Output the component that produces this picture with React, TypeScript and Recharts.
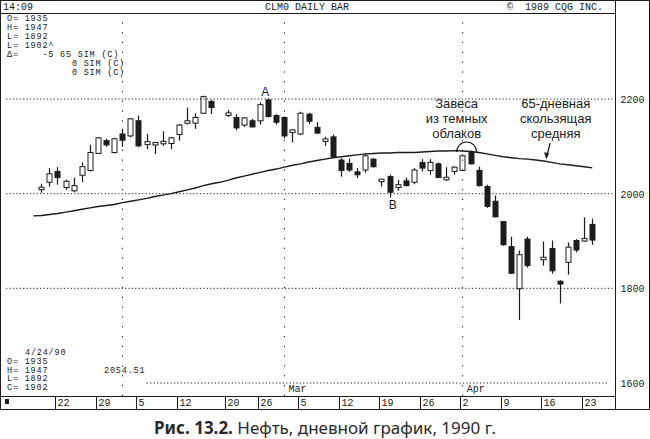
import React from 'react';
import { ComposedChart, Bar, Line, XAxis, YAxis, ReferenceLine, ReferenceDot } from 'recharts';

// one slot per weekday, holidays kept as empty slots (like the CQG screen)
const dates = [
  '1/12',
  '1/15', '1/16', '1/17', '1/18', '1/19',
  '1/22', '1/23', '1/24', '1/25', '1/26',
  '1/29', '1/30', '1/31', '2/1', '2/2',
  '2/5', '2/6', '2/7', '2/8', '2/9',
  '2/12', '2/13', '2/14', '2/15', '2/16',
  '2/19', '2/20', '2/21', '2/22', '2/23',
  '2/26', '2/27', '2/28', '3/1', '3/2',
  '3/5', '3/6', '3/7', '3/8', '3/9',
  '3/12', '3/13', '3/14', '3/15', '3/16',
  '3/19', '3/20', '3/21', '3/22', '3/23',
  '3/26', '3/27', '3/28', '3/29', '3/30',
  '4/2', '4/3', '4/4', '4/5', '4/6',
  '4/9', '4/10', '4/11', '4/12', '4/13',
  '4/16', '4/17', '4/18', '4/19', '4/20',
  '4/23', '4/24', '4/25', '4/26',
];

const opens = [
  null, null, null, null,
  2010, 2024, 2047, 2013, 2006, 2039, 2049, 2085, 2112, 2087, 2126, 2122, 2154, 2104, 2103, 2107, 2106, 2125, 2150, 2149, 2170, 2195,
  null,
  2166, 2161, 2145, 2154, 2154, 2198, 2165, 2161, 2130, 2126, 2168, 2140, 2112, 2120, 2071, 2064, 2046, 2050, 2073, 2026, 2036, 2013, 2027,
  2024, 2066, 2049, 2063, 2031, 2047, 2049, 2087, 2049, 2015, 1984, 1941, 1888, 1799, 1904,
  null,
  1861, 1884, 1815, 1855, 1901, 1900, 1935,
  null, null,
];

const highs = [
  null, null, null, null,
  2021, 2054, 2056, 2030, 2034, 2066, 2103, 2120, 2116, 2118, 2137, 2160, 2165, 2126, 2109, 2132, 2120, 2147, 2182, 2170, 2207, 2198,
  null,
  2177, 2168, 2162, 2158, 2193, 2201, 2168, 2163, 2136, 2173, 2171, 2151, 2120, 2125, 2075, 2074, 2054, 2085, 2075, 2031, 2040, 2029, 2034,
  2054, 2073, 2073, 2066, 2056, 2058, 2083, 2091, 2057, 2019, 1996, 1942, 1909, 1880, 1909,
  null,
  1899, 1901, 1817, 1897, 1904, 1950, 1947,
  null, null,
];

const lows = [
  null, null, null, null,
  2002, 2015, 2019, 2008, 2003, 2024, 2047, 2084, 2099, 2085, 2099, 2119, 2098, 2094, 2084, 2101, 2094, 2112, 2146, 2137, 2168, 2168,
  null,
  2162, 2134, 2141, 2140, 2146, 2161, 2146, 2117, 2108, 2124, 2147, 2126, 2101, 2077, 2036, 2046, 2033, 2044, 2055, 2015, 1992, 2006, 2015,
  2020, 2047, 2040, 2033, 2027, 2040, 2048, 2062, 2015, 1970, 1950, 1890, 1830, 1733, 1844,
  null,
  1848, 1831, 1768, 1829, 1876, 1898, 1892,
  null, null,
];

const closes = [
  null, null, null, null,
  2012, 2042, 2034, 2026, 2017, 2057, 2087, 2118, 2103, 2116, 2113, 2158, 2101, 2110, 2108, 2109, 2118, 2145, 2153, 2161, 2205, 2182,
  null,
  2170, 2139, 2160, 2141, 2188, 2163, 2151, 2122, 2134, 2170, 2153, 2128, 2114, 2078, 2049, 2050, 2040, 2080, 2057, 2030, 2003, 2019, 2017,
  2050, 2054, 2066, 2034, 2033, 2056, 2080, 2063, 2017, 1973, 1951, 1892, 1832, 1871, 1848,
  null,
  1865, 1837, 1809, 1887, 1881, 1905, 1902,
  null, null,
];

// 65-day moving average
const maValues = [
  null, null, null,
  1953, 1954, 1956, 1958, 1961, 1964, 1967, 1970, 1973, 1975, 1977, 1981, 1984, 1987, 1990, 1994, 1997, 2000, 2004, 2008, 2012, 2017, 2021,
  2024,
  2028, 2033, 2037, 2041, 2045, 2049, 2052, 2056, 2060, 2063, 2067, 2070, 2073, 2076, 2078, 2080, 2082, 2084, 2085, 2086, 2086, 2087, 2087,
  2087, 2088, 2089, 2090, 2090, 2091, 2090, 2089, 2087, 2084, 2081, 2078, 2076, 2074, 2073,
  2071,
  2069, 2066, 2063, 2061, 2059, 2057, 2054.51,
  null, null,
];

const weekLabels: Record<string, string> = {
  '1/22': '22', '1/29': '29', '2/5': '5', '2/12': '12', '2/20': '20', '2/26': '26', '3/5': '5',
  '3/12': '12', '3/19': '19', '3/26': '26', '4/2': '2', '4/9': '9', '4/16': '16', '4/23': '23',
};

const priceTicks = [1600, 1800, 2000, 2200];

const rows = dates.map((date, i) => ({
  date,
  o: opens[i],
  h: highs[i],
  l: lows[i],
  c: closes[i],
  hl: highs[i] == null ? null : [lows[i], highs[i]],
  ma: maValues[i],
}));

const INK = '#1c1c1c';
const MONO = '"Liberation Mono", "DejaVu Sans Mono", monospace';
const SANS = '"Noto Sans", "Open Sans", sans-serif';
const NOTE = '"Liberation Sans", Arial, sans-serif';

function Candle(props: any) {
  const { x, y, width, height, payload } = props;
  if (!payload || payload.h == null) return null;
  const { o, h, l, c } = payload;
  const cx = Math.round(x + width / 2) + 0.5;
  const k = h === l ? 0 : height / (h - l);
  const yO = y + (h - o) * k;
  const yC = y + (h - c) * k;
  let top = Math.min(yO, yC);
  let bot = Math.max(yO, yC);
  if (bot - top < 2.5) {
    const m = (top + bot) / 2;
    top = m - 1.25;
    bot = m + 1.25;
  }
  const up = c >= o;
  return (
    <g>
      <line x1={cx} x2={cx} y1={y} y2={y + height} stroke={INK} strokeWidth={1.2} />
      <rect x={cx - 2.5} y={top} width={5} height={bot - top} fill={up ? '#fff' : INK} stroke={INK} strokeWidth={1} />
    </g>
  );
}

function WeekTick(props: any) {
  const { x, y, payload } = props;
  const label = weekLabels[payload.value];
  if (!label) return null;
  const sx = Math.round(x - 2.5) + 0.5;
  return (
    <g>
      <line x1={sx} x2={sx} y1={y} y2={y + 13} stroke={INK} strokeWidth={1} />
      <text x={sx + 2} y={y + 10} fontFamily={MONO} fontSize={10} fill={INK}>{label}</text>
    </g>
  );
}

function PriceTick(props: any) {
  const { x, y, payload } = props;
  return (
    <text x={x + 8} y={y + 4} fontFamily={MONO} fontSize={10} fill={INK}>{payload.value}</text>
  );
}

const noteLines = (cx: number, cy: number, lines: string[]) => (
  <g>
    {lines.map((t, i) => (
      <text key={i} x={cx} y={cy + 5 + i * 15} fontFamily={NOTE} fontSize={13} fill={INK} textAnchor="middle">
        {t}
      </text>
    ))}
  </g>
);

const mono = (x: number, y: number, s: string, size = 10, spacing = 0) => (
  <text
    x={x}
    y={y}
    fontFamily={MONO}
    fontSize={size}
    letterSpacing={spacing}
    fill={INK}
    style={{ whiteSpace: 'pre' }}
  >
    {s}
  </text>
);

const small = (x: number, y: number, s: string) => mono(x, y, s, 8.5, 0.8);

export default function App() {
  return (
    <div style={{ position: 'absolute', left: 0, top: 0, width: 650, height: 439, background: '#fff' }}>
      <ComposedChart
        width={650}
        height={410}
        data={rows}
        margin={{ top: 15, right: 0, bottom: 1, left: 5 }}
      >
        <XAxis
          dataKey="date"
          type="category"
          height={13}
          interval={0}
          tickSize={0}
          tickMargin={0}
          axisLine={false}
          tickLine={false}
          tick={<WeekTick />}
        />
        <YAxis
          orientation="right"
          type="number"
          width={37.5}
          domain={[1572.5, 2377.5]}
          allowDataOverflow
          ticks={priceTicks}
          interval={0}
          tickSize={0}
          tickMargin={0}
          axisLine={false}
          tickLine={false}
          tick={<PriceTick />}
        />
        <ReferenceLine y={2200} stroke={INK} strokeDasharray="1.2 2.2" />
        <ReferenceLine y={2000} stroke={INK} strokeDasharray="1.2 2.2" />
        <ReferenceLine y={1800} stroke={INK} strokeDasharray="1.2 2.2" />
        <ReferenceLine segment={[{ x: '2/6', y: 1600 }, { x: '4/26', y: 1600 }]} stroke={INK} strokeDasharray="1.2 2.2" />
        <ReferenceLine x="2/1" stroke={INK} strokeDasharray="1.3 8.5" />
        <ReferenceLine
          x="3/1"
          stroke={INK}
          strokeDasharray="1.3 8.5"
          label={{ value: 'Mar', position: 'insideBottomLeft', offset: 4, fontFamily: MONO, fontSize: 10, fill: INK }}
        />
        <ReferenceLine
          x="4/2"
          stroke={INK}
          strokeDasharray="1.3 8.5"
          label={{ value: 'Apr', position: 'insideBottomLeft', offset: 4, fontFamily: MONO, fontSize: 10, fill: INK }}
        />
        <Line
          dataKey="ma"
          type="linear"
          stroke={INK}
          strokeWidth={1.4}
          dot={false}
          activeDot={false}
          isAnimationActive={false}
        />
        <Bar dataKey="hl" shape={<Candle />} isAnimationActive={false} />
        <ReferenceDot
          x="2/27"
          y={2215}
          r={3}
          shape={(p: any) => (
            <text x={p.cx - 3} y={p.cy + 4} textAnchor="middle" fontFamily={NOTE} fontSize={12} fill={INK}>A</text>
          )}
        />
        <ReferenceDot
          x="3/20"
          y={1977}
          r={3}
          shape={(p: any) => (
            <text x={p.cx + 3} y={p.cy + 4} textAnchor="middle" fontFamily={NOTE} fontSize={12} fill={INK}>B</text>
          )}
        />
        <ReferenceDot
          x="4/2"
          y={2192}
          r={3}
          shape={(p: any) => noteLines(p.cx - 6, p.cy, ['Завеса', 'из темных', 'облаков'])}
        />
        <ReferenceDot
          x="4/17"
          y={2192}
          r={3}
          shape={(p: any) => noteLines(p.cx + 4, p.cy, ['65-дневная', 'скользящая', 'средняя'])}
        />
        <ReferenceDot
          x="4/2"
          y={2088}
          r={3}
          shape={(p: any) => (
            <path
              d={`M ${p.cx - 6} ${p.cy} A 10 10 0 0 1 ${p.cx + 14} ${p.cy}`}
              fill="none"
              stroke={INK}
              strokeWidth={1.2}
            />
          )}
        />
        <ReferenceDot
          x="4/16"
          y={2075}
          r={3}
          shape={(p: any) => (
            <g>
              <line x1={p.cx + 6.5} y1={p.cy - 15} x2={p.cx + 3} y2={p.cy - 1} stroke={INK} strokeWidth={1.3} />
              <path d={`M ${p.cx + 2.5} ${p.cy + 1} L ${p.cx + 0.5} ${p.cy - 6} L ${p.cx + 5.5} ${p.cy - 5} Z`} fill={INK} />
            </g>
          )}
        />
      </ComposedChart>

      <svg
        width={650}
        height={410}
        style={{ position: 'absolute', left: 0, top: 0, pointerEvents: 'none' }}
      >
        <g stroke={INK} strokeWidth={1} fill="none">
          <rect x={0.5} y={0.5} width={649} height={409} />
          <line x1={0} x2={615} y1={13.5} y2={13.5} />
          <line x1={615.5} x2={615.5} y1={0} y2={410} />
          <line x1={0} x2={615} y1={396.5} y2={396.5} />
        </g>
        <rect x={5} y={399} width={4} height={5} fill={INK} />
        {mono(3, 10, '14:09')}
        {mono(265, 10, 'CLM0 DAILY BAR')}
        {mono(507, 10, '©  1989 CQG INC.')}
        {small(7, 21, 'O= 1935')}
        {small(7, 30, 'H= 1947')}
        {small(7, 39, 'L= 1892')}
        {small(7, 48, 'L= 1902^')}
        {small(7, 57, 'Δ=    -5 65 SIM (C)')}
        {small(7, 66, '           0 SIM (C)')}
        {small(7, 75, '           0 SIM (C)')}
        {small(25, 355, '4/24/90')}
        {small(7, 364, 'O= 1935')}
        {small(7, 372.5, 'H= 1947')}
        {small(7, 381, 'L= 1892')}
        {small(7, 389.5, 'C= 1902')}
        {small(104, 372.5, '2054.51')}
      </svg>

      <div
        style={{
          position: 'absolute',
          left: 0,
          top: 418,
          width: 650,
          lineHeight: '20px',
          textAlign: 'center',
          fontFamily: SANS,
          fontSize: 17,
          color: '#2a2a2a',
        }}
      >
        <b>Рис. 13.2.</b> Нефть, дневной график, 1990 г.
      </div>
    </div>
  );
}
